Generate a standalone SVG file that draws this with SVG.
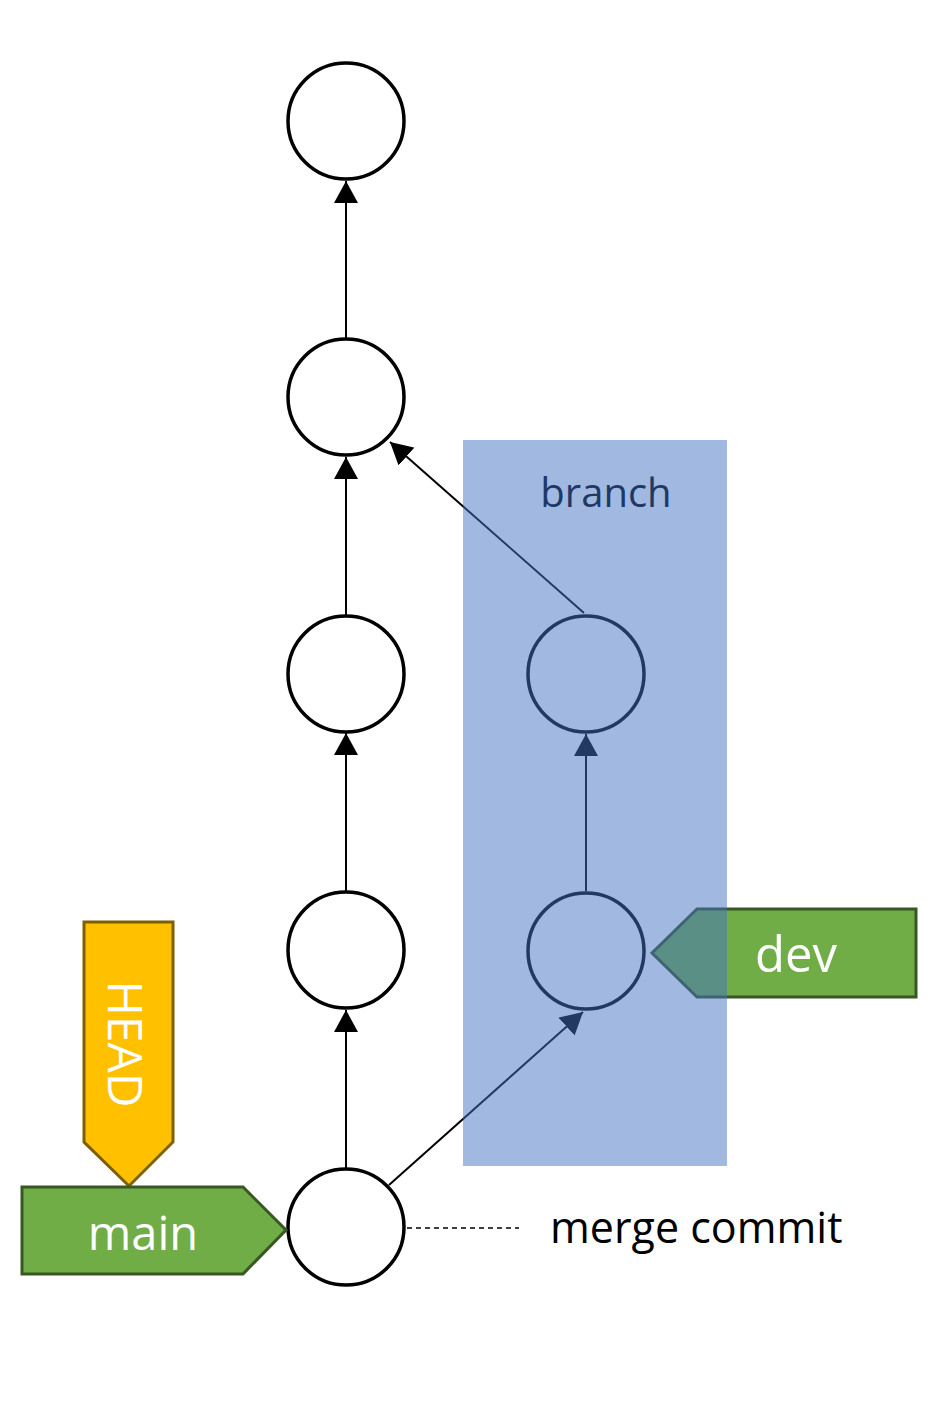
<svg xmlns="http://www.w3.org/2000/svg" width="945" height="1417" viewBox="0 0 945 1417">
<style>
.commit{fill:#fff;stroke:#000;stroke-width:3.5}
.edge{stroke:#000;stroke-width:2;fill:none}
.lbl{font-family:"Open Sans","Noto Sans",sans-serif;fill:#fff}
.ref{stroke-width:3;stroke-linejoin:miter}
</style>
<defs>
<marker id="ah" markerUnits="userSpaceOnUse" markerWidth="24" markerHeight="24" refX="22" refY="12" orient="auto">
<path d="M0,0 L22,12 L0,24 z" fill="#000"/>
</marker>
</defs>
<rect width="945" height="1417" fill="#fff"/>
<g id="connectors">
<line class="edge" x1="346" y1="1168" x2="346" y2="1010" marker-end="url(#ah)"/>
<line class="edge" x1="346" y1="891" x2="346" y2="733" marker-end="url(#ah)"/>
<line class="edge" x1="346" y1="615" x2="346" y2="457" marker-end="url(#ah)"/>
<line class="edge" x1="346" y1="338" x2="346" y2="181" marker-end="url(#ah)"/>
<line class="edge" x1="586" y1="891" x2="586" y2="734" marker-end="url(#ah)"/>
<line class="edge" x1="584" y1="613" x2="390" y2="442" marker-end="url(#ah)"/>
<line class="edge" x1="389" y1="1185" x2="583" y2="1012" marker-end="url(#ah)"/>
<line x1="407" y1="1228" x2="519" y2="1228" stroke="#000" stroke-width="1.5" stroke-dasharray="5,4"/>
</g>
<g id="c1"><circle class="commit" cx="346" cy="121" r="58"/></g>
<g id="c2"><circle class="commit" cx="346" cy="397" r="58"/></g>
<g id="c3"><circle class="commit" cx="346" cy="674" r="58"/></g>
<g id="c4"><circle class="commit" cx="346" cy="950" r="58"/></g>
<g id="c5"><circle class="commit" cx="346" cy="1227" r="58"/></g>
<g id="b1"><circle class="commit" cx="586" cy="674" r="58"/></g>
<g id="b2"><circle class="commit" cx="586" cy="951" r="58"/></g>
<g id="head">
<polygon class="ref" points="84,922 173,922 173,1142 129,1186 84,1142" fill="#FFC000" stroke="#7F6000"/>
<text class="lbl" font-size="48" text-anchor="middle" transform="translate(108,1044) rotate(90)">HEAD</text>
</g>
<g id="main">
<polygon class="ref" points="22,1187 243,1187 286,1230 243,1274 22,1274" fill="#70AD47" stroke="#385723"/>
<text class="lbl" font-size="47" text-anchor="middle" x="143" y="1250">main</text>
</g>
<g id="dev">
<polygon class="ref" points="916,909 697,909 652,953 697,997 916,997" fill="#70AD47" stroke="#385723"/>
<text class="lbl" font-size="49" text-anchor="middle" x="796" y="972">dev</text>
</g>
<g id="merge-label">
<text x="550" y="1243" font-family="Open Sans, Noto Sans, sans-serif" font-size="43" fill="#000">merge commit</text>
</g>
<g id="branch">
<rect x="463" y="440" width="264" height="726" fill="#4472C4" fill-opacity="0.5"/>
<text x="606" y="507" text-anchor="middle" font-family="Open Sans, Noto Sans, sans-serif" font-size="40" fill="#203864">branch</text>
</g>
</svg>
